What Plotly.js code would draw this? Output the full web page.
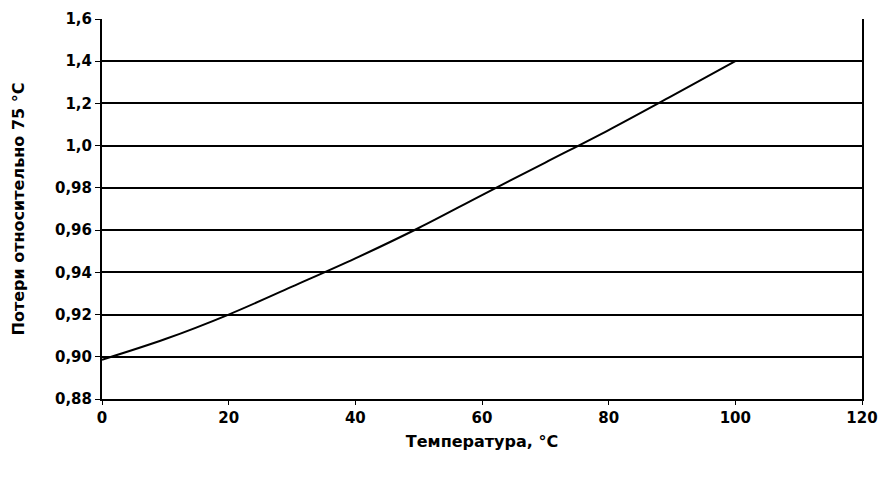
<!DOCTYPE html>
<html>
<head>
<meta charset="utf-8">
<script src="https://cdn.plot.ly/plotly-3.0.1.min.js"></script>
<style>html,body{margin:0;padding:0;background:#fff;}#chart{width:882px;height:481px;}</style>
</head>
<body>
<div id="chart"></div>
<script>
// Temperature, °C
const temperature = [0, 10, 20, 30, 40, 50, 60, 70, 80, 90, 100];
// Curve position on the (evenly spaced) y-axis scale, in tick steps from the bottom label
const lossLevel = [0.93, 1.42, 2.00, 2.66, 3.33, 4.05, 4.83, 5.60, 6.37, 7.18, 8.00];
// Y tick labels as printed on the chart, bottom to top
const yTickLabels = ["0,88", "0,90", "0,92", "0,94", "0,96", "0,98", "1,0", "1,2", "1,4", "1,6"];
const yTickPos = yTickLabels.map((_, i) => i);
const gridPos = yTickPos.slice(1, 9);
const xTicks = [0, 20, 40, 60, 80, 100, 120];

const fam = "DejaVu Sans, Arial, sans-serif";
const tickFont = {family: fam, size: 15, color: "#000", weight: "bold"};
const titleFont = {family: fam, size: 16, color: "#000", weight: "bold"};

const trace = {
  x: temperature, y: lossLevel, type: "scatter", mode: "lines",
  line: {color: "#000", width: 2, shape: "spline"},
  hoverinfo: "skip"
};
const gridTrace = {x: [0], y: [0], yaxis: "y2", mode: "markers", marker: {opacity: 0}, showlegend: false, hoverinfo: "skip"};

const layout = {
  width: 882, height: 481,
  margin: {l: 102, r: 20, t: 19, b: 82},
  paper_bgcolor: "#fff", plot_bgcolor: "#fff",
  showlegend: false,
  xaxis: {
    range: [0, 120], tickvals: xTicks, ticktext: xTicks.map(String),
    showgrid: false, zeroline: false,
    showline: true, linecolor: "#000", linewidth: 2,
    ticks: "outside", ticklen: 4, tickwidth: 1, tickcolor: "#000",
    tickfont: tickFont,
    title: {text: "Температура, °С", font: titleFont, standoff: 10}
  },
  yaxis: {
    range: [0, 9], tickvals: yTickPos, ticktext: yTickLabels,
    showgrid: false, zeroline: false,
    showline: true, linecolor: "#000", linewidth: 2,
    ticks: "outside", ticklen: 5, tickwidth: 1, tickcolor: "#000",
    tickfont: tickFont,
    title: {text: "Потери относительно 75 °С", font: titleFont, standoff: 26}
  },
  yaxis2: {
    overlaying: "y", side: "right", range: [0, 9],
    tickvals: gridPos, showticklabels: false, ticks: "",
    showgrid: true, gridcolor: "#000", gridwidth: 2,
    zeroline: false, showline: true, linecolor: "#000", linewidth: 2
  }
};

Plotly.newPlot("chart", [gridTrace, trace], layout, {displayModeBar: false, staticPlot: true});
</script>
</body>
</html>
